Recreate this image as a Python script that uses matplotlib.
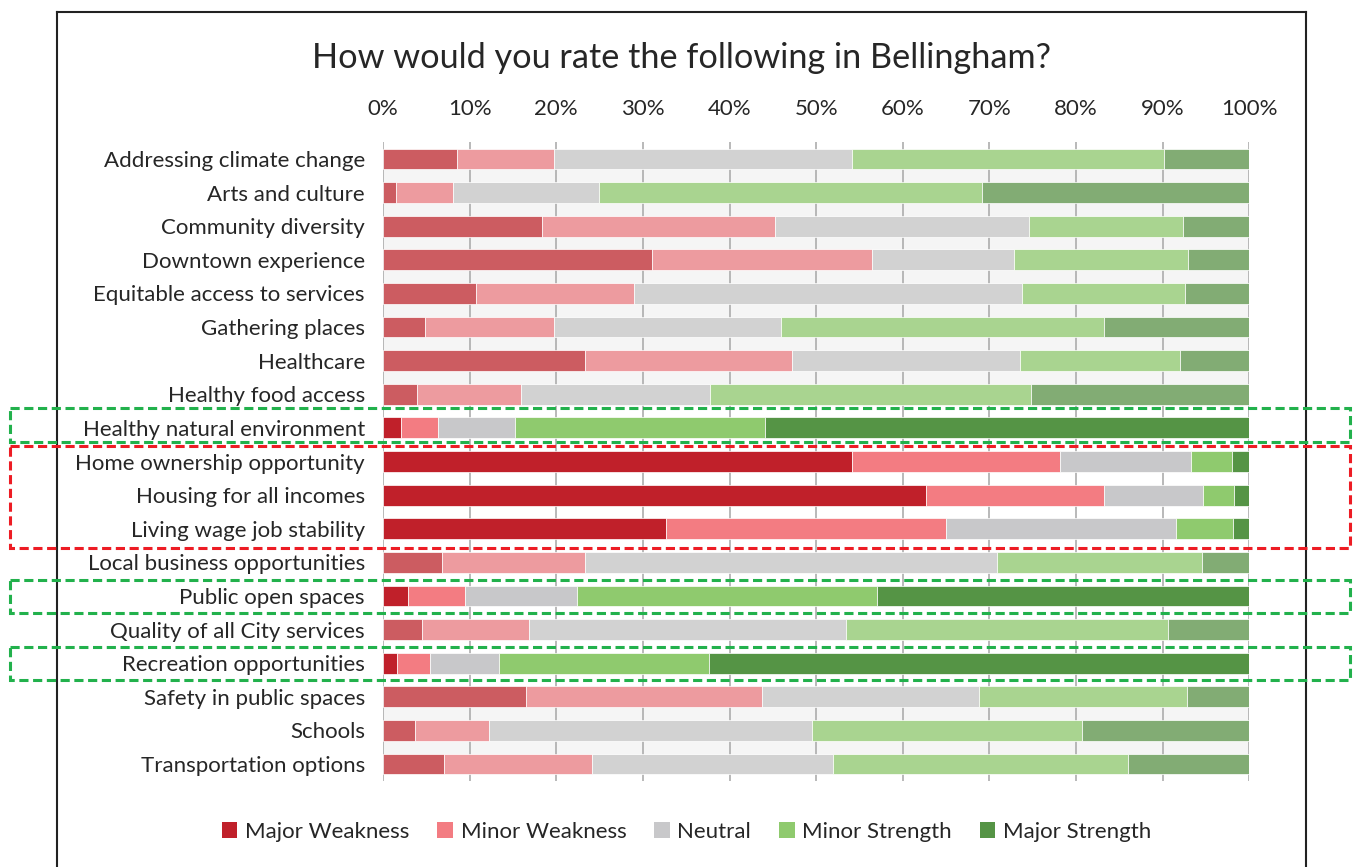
import matplotlib
matplotlib.use("Agg")
import matplotlib.pyplot as plt
import matplotlib.transforms as mtransforms
from matplotlib.patches import Rectangle, Patch
from matplotlib.lines import Line2D

categories = [
    "Addressing climate change", "Arts and culture", "Community diversity",
    "Downtown experience", "Equitable access to services", "Gathering places",
    "Healthcare", "Healthy food access", "Healthy natural environment",
    "Home ownership opportunity", "Housing for all incomes", "Living wage job stability",
    "Local business opportunities", "Public open spaces", "Quality of all City services",
    "Recreation opportunities", "Safety in public spaces", "Schools", "Transportation options",
]
major_weakness = [8.5, 1.5, 18.3, 31.1, 10.7, 4.8, 23.3, 3.9, 2.1, 54.1, 62.7, 32.7, 6.8, 2.9, 4.5, 1.6, 16.5, 3.7, 7.0]
minor_weakness = [11.2, 6.6, 26.9, 25.4, 18.3, 14.9, 23.9, 12.0, 4.2, 24.1, 20.5, 32.3, 16.5, 6.6, 12.4, 3.8, 27.3, 8.5, 17.1]
neutral =        [34.4, 16.8, 29.4, 16.3, 44.8, 26.3, 26.3, 21.9, 8.9, 15.1, 11.4, 26.5, 47.6, 12.9, 36.6, 8.0, 25.0, 37.3, 27.9]
minor_strength = [36.1, 44.3, 17.8, 20.1, 18.8, 37.2, 18.5, 37.0, 28.9, 4.7, 3.6, 6.6, 23.6, 34.6, 37.1, 24.2, 24.0, 31.2, 34.0]
major_strength = [9.8, 30.8, 7.6, 7.1, 7.4, 16.8, 8.0, 25.2, 55.9, 2.0, 1.8, 1.9, 5.5, 43.0, 9.4, 62.4, 7.2, 19.3, 14.0]
series_names = ["Major Weakness", "Minor Weakness", "Neutral", "Minor Strength", "Major Strength"]
tick_values = [0, 10, 20, 30, 40, 50, 60, 70, 80, 90, 100]
tick_labels = [f"{v}%" for v in tick_values]
title = "How would you rate the following in Bellingham?"

highlight_good = ["Healthy natural environment", "Public open spaces", "Recreation opportunities"]
highlight_bad = ["Home ownership opportunity", "Housing for all incomes", "Living wage job stability"]

bright = ["#C0202A", "#F37C82", "#C8C8CA", "#8FCA6E", "#559445"]
muted = ["#CC5C61", "#ED9B9F", "#D2D2D2", "#A9D490", "#82AC74"]

plt.rcParams["font.family"] = ["Lato", "DejaVu Sans"]
TXT = "#262626"
FS = 16

W, H = 1353, 867
fig = plt.figure(figsize=(W / 100, H / 100), dpi=100)
ax_left, ax_right = 383 / W, 1249.3 / W
ax_top, ax_bot = 1 - 142.2 / H, 1 - 780.8 / H
ax = fig.add_axes([ax_left, ax_bot, ax_right - ax_left, ax_top - ax_bot])

n = len(categories)
ypos = list(range(n))
highlighted = set(highlight_good) | set(highlight_bad)
bar_h = 0.62

series = [major_weakness, minor_weakness, neutral, minor_strength, major_strength]
left = [0.0] * n
for s_idx, vals in enumerate(series):
    cols = [bright[s_idx] if c in highlighted else muted[s_idx] for c in categories]
    ax.barh(ypos, vals, left=left, height=bar_h, color=cols, edgecolor="white",
            linewidth=0.5, zorder=3)
    left = [l + v for l, v in zip(left, vals)]

# light grey bands in gaps between non-highlighted rows
for i in range(n - 1):
    if categories[i] not in highlighted and categories[i + 1] not in highlighted:
        ax.axhspan(i + bar_h / 2, i + 1 - bar_h / 2, color="#F5F5F5", zorder=0.2, lw=0)

ax.set_xlim(0, 100)
ax.set_ylim(n - 0.5, -0.5)
ax.set_yticks(ypos)
ax.set_yticklabels(categories, fontsize=FS, color=TXT)
ax.xaxis.tick_top()
ax.set_xticks(tick_values)
ax.set_xticklabels(tick_labels, fontsize=FS, color=TXT)
ax.tick_params(axis="x", length=0, pad=17)
ax.tick_params(axis="y", length=0, pad=13)
ax.set_axisbelow(True)
ax.grid(axis="x", color="#A6A6A6", linewidth=1.1, zorder=0.5)
ax.grid(axis="y", visible=False)
for sp in ax.spines.values():
    sp.set_visible(False)
ax.set_facecolor("none")

fig.text(681.5 / W, 1 - 58 / H, title, ha="center", va="center", fontsize=24.7, color=TXT)

# chart frame
frame_kw = dict(color="#222222", linewidth=1.5, transform=fig.transFigure)
fig.add_artist(Line2D([57.3 / W, 1306 / W], [1 - 11.7 / H, 1 - 11.7 / H], **frame_kw))
fig.add_artist(Line2D([57.3 / W, 57.3 / W], [1 - 11.7 / H, -0.01], **frame_kw))
fig.add_artist(Line2D([1306 / W, 1306 / W], [1 - 11.7 / H, -0.01], **frame_kw))

# dashed highlight boxes
trans = mtransforms.blended_transform_factory(fig.transFigure, ax.transData)
def box(first, last, color, top_pad=0.5, bot_pad=0.5):
    i0 = categories.index(first)
    i1 = categories.index(last)
    y0 = i0 - top_pad
    y1 = i1 + bot_pad
    r = Rectangle((10 / W, y0), (1350 - 10) / W, y1 - y0, transform=trans, fill=False,
                  edgecolor=color, linewidth=2.2, linestyle=(0, (3, 1.5)), zorder=10,
                  clip_on=False)
    fig.add_artist(r)

green = "#22B14C"
red = "#ED1C24"
box("Healthy natural environment", "Healthy natural environment", green, 0.58, 0.43)
box("Home ownership opportunity", "Living wage job stability", red, 0.45, 0.57)
box("Public open spaces", "Public open spaces", green, 0.47, 0.5)
box("Recreation opportunities", "Recreation opportunities", green, 0.49, 0.5)

handles = [Patch(facecolor=c, edgecolor="none") for c in bright]
fig.legend(handles, series_names, loc="center", bbox_to_anchor=(686.5 / W, 1 - 832 / H),
           ncol=5, frameon=False, fontsize=FS, handlelength=0.7, handleheight=0.7,
           handletextpad=0.35, columnspacing=1.25, labelcolor=TXT)

fig.savefig("out.png", dpi=100, facecolor="white")
